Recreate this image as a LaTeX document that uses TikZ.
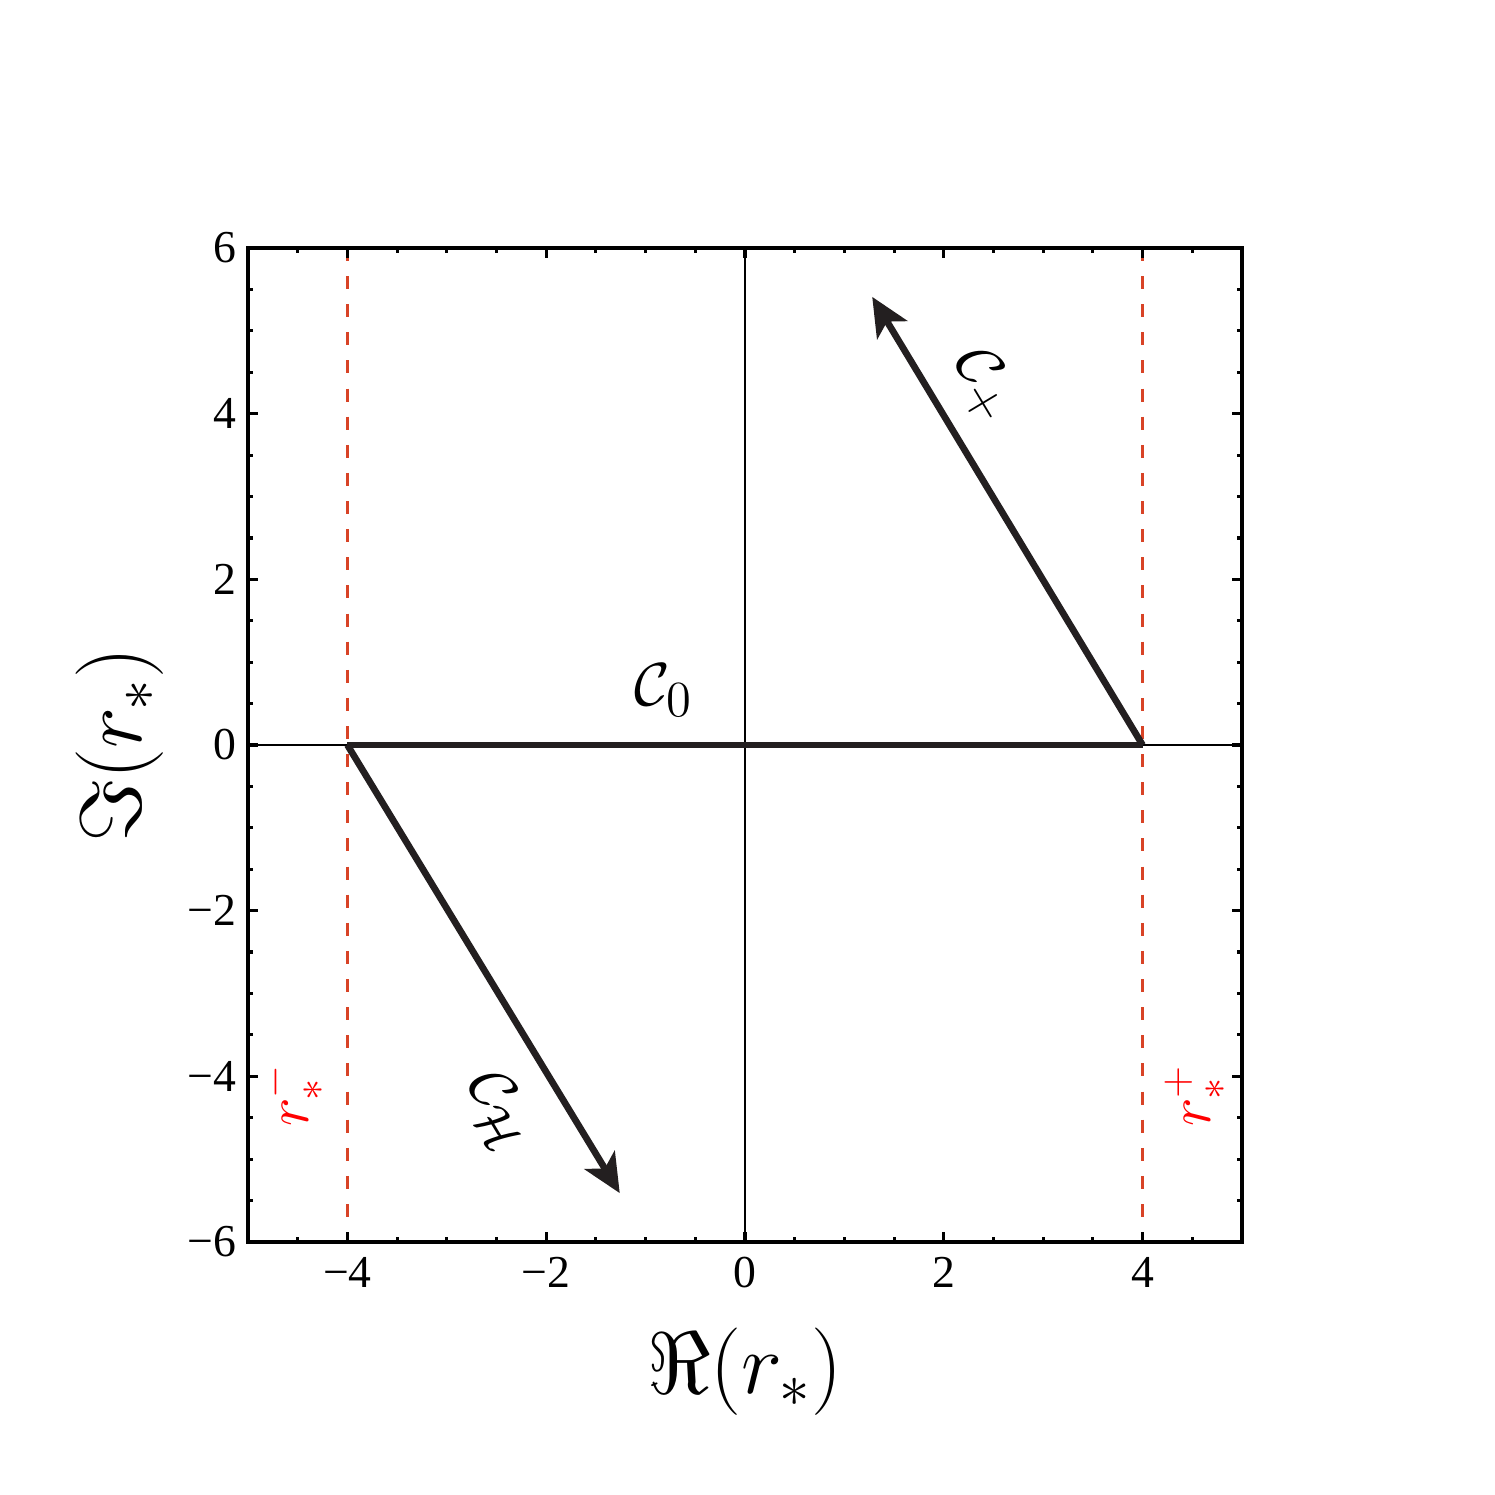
\documentclass[tikz,border=0pt]{standalone}
\usepackage{fontspec}
\setmainfont{Liberation Serif}
\usetikzlibrary{arrows.meta}
\definecolor{dashred}{RGB}{216,67,38}
\definecolor{arrowdark}{RGB}{35,31,32}
\definecolor{labred}{RGB}{255,0,0}
\begin{document}
\begin{tikzpicture}[x=0.994cm,y=0.8283cm,
  frameline/.style={line width=1.1pt,black},
  axisline/.style={line width=0.85pt,black},
  tickline/.style={line width=0.9pt,black},
  dashline/.style={line width=1.05pt,dashred,dash pattern=on 3.7pt off 4.3pt},
  baseline path/.style={line width=1.9pt,arrowdark},
  contour/.style={line width=1.9pt,arrowdark,-{Stealth[length=11pt,width=10pt,inset=2.8pt]}},
  ticklab/.style={inner sep=0pt,font=\fontsize{13}{15}\selectfont},
  curvelab/.style={inner sep=0pt,font=\fontsize{19}{21}\selectfont},
  redlab/.style={inner sep=0pt,text=labred,rotate=90,font=\fontsize{18}{20}\selectfont},
  axislab/.style={inner sep=0pt,font=\fontsize{23}{26}\selectfont}]
\useasboundingbox (-7.45cm,-7.50cm) rectangle (7.50cm,7.45cm);
% dashed lines
\draw[dashline] (-4,6) -- (-4,-6);
\draw[dashline] (4,6) -- (4,-6);
% axes
\draw[axisline] (-5,0) -- (5,0);
\draw[axisline] (0,-6) -- (0,6);
% ticks
\foreach \x in {-4.5,-4,...,4.5} {
  \draw[tickline] (\x,-6) -- ++(0,0.05cm);
  \draw[tickline] (\x,6) -- ++(0,-0.05cm);
}
\foreach \x in {-4,-2,0,2,4} {
  \draw[tickline] (\x,-6) -- ++(0,0.10cm);
  \draw[tickline] (\x,6) -- ++(0,-0.10cm);
}
\foreach \y in {-5.5,-5,...,5.5} {
  \draw[tickline] (-5,\y) -- ++(0.05cm,0);
  \draw[tickline] (5,\y) -- ++(-0.05cm,0);
}
\foreach \y in {-4,-2,0,2,4} {
  \draw[tickline] (-5,\y) -- ++(0.10cm,0);
  \draw[tickline] (5,\y) -- ++(-0.10cm,0);
}
% frame
\draw[frameline] (-5,-6) rectangle (5,6);
% tick labels
\foreach \v/\t [count=\i] in {-4/−4,-2/−2,0/0,2/2,4/4}
  \node[ticklab,anchor=base] (xt\i) at (\v,-6) [yshift=-0.46cm] {\t};
\foreach \v/\t [count=\i] in {-6/−6,-4/−4,-2/−2,0/0,2/2,4/4,6/6}
  \node[ticklab,anchor=east] (yt\i) at (-5,\v) [xshift=-0.11cm] {\t};
% contour points
\coordinate (hL) at (-4,0);
\coordinate (hR) at (4,0);
\coordinate (tipP) at (1.28,5.41);
\coordinate (tipH) at (-1.26,-5.41);
\draw[baseline path] (hL) -- (hR);
\draw[contour] (hR) -- (tipP);
\draw[contour] (hL) -- (tipH);
% labels
\node[curvelab] (c0) at (-0.82,0.66) {$\mathcal{C}_0$};
\node[curvelab,rotate=-59] (cp) at (2.41,4.35) {$\mathcal{C}_+$};
\node[curvelab,rotate=-59] (ch) at (-2.48,-4.41) {$\mathcal{C}_{\mathcal{H}}$};
\node[redlab] (rm) at (-4.55,-4.23) {$r_*^-$};
\node[redlab] (rp) at (4.53,-4.23) {$r_*^+$};
\node[axislab] (xlab) at (0cm,-6.27cm) {$\Re(r_*)$};
\node[axislab,rotate=90] (ylab) at (-6.25cm,0cm) {$\Im(r_*)$};
\end{tikzpicture}
\end{document}
